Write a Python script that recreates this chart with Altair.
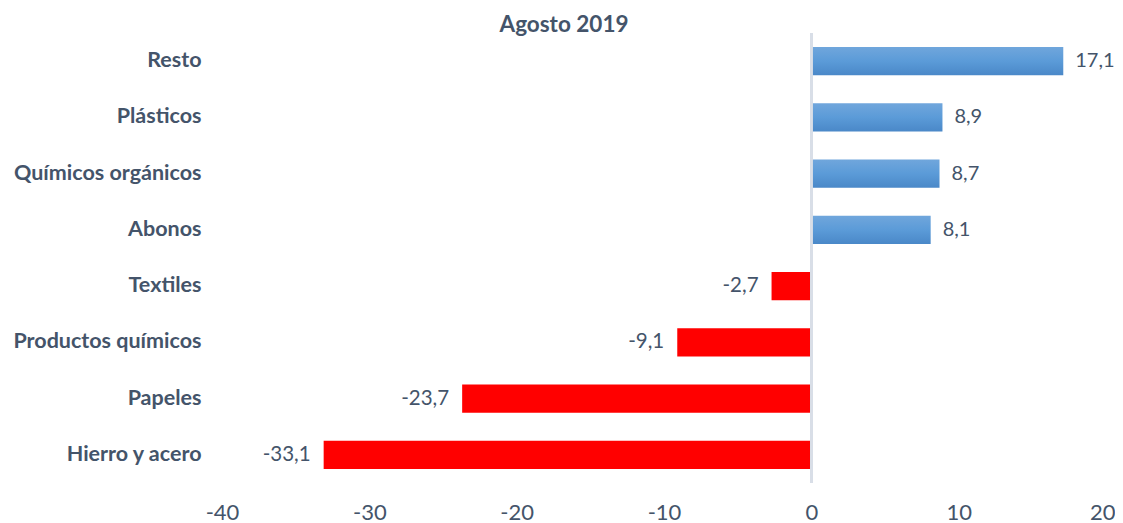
import altair as alt
import pandas as pd

categories = ["Resto", "Plásticos", "Químicos orgánicos", "Abonos", "Textiles",
              "Productos químicos", "Papeles", "Hierro y acero"]
values = [17.1, 8.9, 8.7, 8.1, -2.7, -9.1, -23.7, -33.1]
labels = ["17,1", "8,9", "8,7", "8,1", "-2,7", "-9,1", "-23,7", "-33,1"]
x_ticks = [-40, -30, -20, -10, 0, 10, 20]

df = pd.DataFrame({"cat": categories, "val": values, "lab": labels})

FONT = "Lato"
TXT = "#44546A"

x_enc = alt.X("val:Q", scale=alt.Scale(domain=[-40, 20], nice=False, zero=False),
              axis=alt.Axis(values=x_ticks, title=None, grid=False, domain=False, ticks=False,
                            labelFlush=False, labelExpr="toString(datum.value)",
                            labelAlign={"condition": {"test": "datum.value == 20", "value": "right"},
                                        "value": "center"},
                            labelOffset={"condition": {"test": "datum.value == 20", "value": 9},
                                         "value": 0},
                            labelFont=FONT, labelFontSize=22, labelColor=TXT, labelPadding=19))
y_enc = alt.Y("cat:N", sort=categories,
              scale=alt.Scale(paddingInner=0.5, paddingOuter=0.25),
              axis=alt.Axis(title=None, domain=False, ticks=False, labelFont=FONT,
                            labelFontSize=21.5, labelFontWeight="bold", labelColor=TXT,
                            labelPadding=21, labelLimit=400))

base = alt.Chart(df)

zero = base.mark_rule(color="#D9DEE7", strokeWidth=2).encode(
    x=alt.datum(0), y=alt.value(0), y2=alt.value(450))

grad = alt.Gradient(gradient="linear", x1=0, x2=0, y1=0, y2=1,
                    stops=[alt.GradientStop(offset=0, color="#70A6DC"),
                           alt.GradientStop(offset=0.5, color="#5B9BD8"),
                           alt.GradientStop(offset=1, color="#4A88C8")])

pos_bars = base.transform_filter(alt.datum.val >= 0).mark_bar(color=grad).encode(x=x_enc, y=y_enc)
neg_bars = base.transform_filter(alt.datum.val < 0).mark_bar(color="#FF0000").encode(x=x_enc, y=y_enc)

pos_txt = base.transform_filter(alt.datum.val >= 0).mark_text(
    align="left", dx=12, font=FONT, fontSize=20, color=TXT).encode(
    x="val:Q", y=alt.Y("cat:N", sort=categories), text="lab:N")
neg_txt = base.transform_filter(alt.datum.val < 0).mark_text(
    align="right", dx=-13, font=FONT, fontSize=20.5, color=TXT).encode(
    x="val:Q", y=alt.Y("cat:N", sort=categories), text="lab:N")

chart = alt.layer(pos_bars, neg_bars, zero, pos_txt, neg_txt).properties(
    width=884, height=450,
    title=alt.Title("Agosto 2019", font=FONT, fontSize=22.5, fontWeight="bold", color=TXT,
                    anchor="middle", dx=-100, dy=10, offset=6),
    autosize=alt.AutoSizeParams(type="none"),
    padding={"left": 214, "top": 25, "right": 9, "bottom": 40},
).configure(background="white").configure_view(stroke=None)

chart.save("out.html", embed_options={"renderer": "svg", "actions": False})
